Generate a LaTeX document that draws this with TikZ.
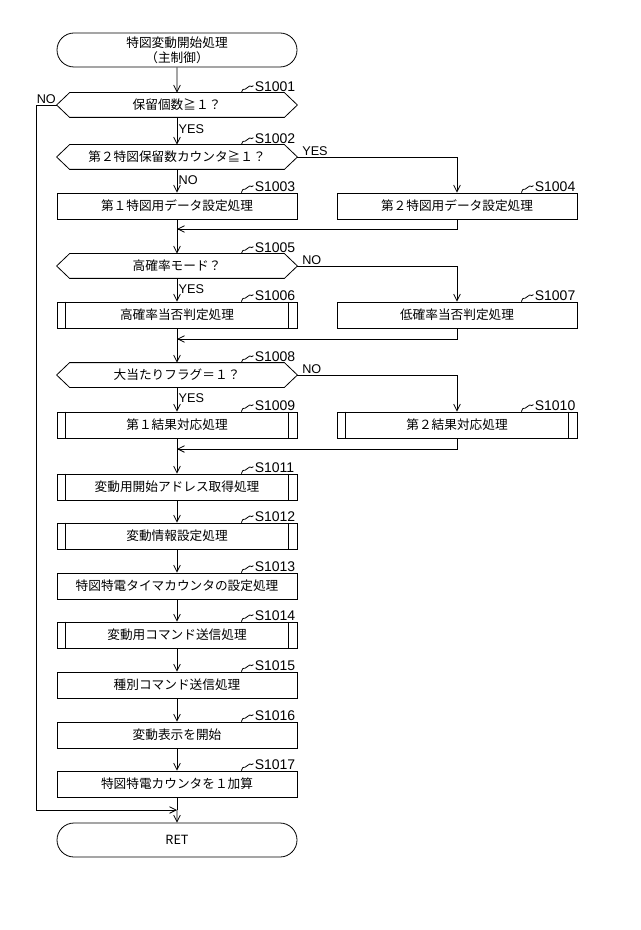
\documentclass[tikz,border=0pt]{standalone}
\usepackage{fontspec}
\setmainfont{Liberation Sans}
\newfontfamily\cjk{Noto Sans CJK JP}
\usetikzlibrary{calc,arrows.meta,shapes.misc}
\begin{document}
\begin{tikzpicture}[x=0.75pt,y=-0.75pt,line width=0.6pt,
  box/.style={draw,minimum width=240*0.75pt,minimum height=26*0.75pt,font=\cjk\fontsize{9.5}{11}\selectfont,inner sep=0pt},
  term/.style={draw,rounded rectangle,minimum width=240*0.75pt,minimum height=34*0.75pt,font=\cjk\fontsize{9.5}{11}\selectfont,inner sep=0pt,align=center},
  dec/.style={minimum width=240*0.75pt,minimum height=24*0.75pt,font=\cjk\fontsize{9.5}{11}\selectfont,inner sep=0pt},
  lab/.style={font=\fontsize{10.5}{12}\selectfont,inner sep=0pt,anchor=south west},
  yn/.style={font=\fontsize{9.5}{11}\selectfont,inner sep=1pt},
  arr/.style={-{Straight Barb[length=5pt,width=5pt]}}]
\useasboundingbox (0,0) rectangle (640,930);
\newcommand{\hexa}[1]{\draw (#1.west) -- ($(#1.north west)+(13,0)$) -- ($(#1.north east)+(-13,0)$) -- (#1.east) -- ($(#1.south east)+(-13,0)$) -- ($(#1.south west)+(13,0)$) -- cycle;}
\newcommand{\subr}[1]{\draw ($(#1.north west)+(9,0)$) -- ($(#1.south west)+(9,0)$) ($(#1.north east)+(-9,0)$) -- ($(#1.south east)+(-9,0)$);}
\newcommand{\stp}[2]{\draw ($(#1.north east)+(-56,0)$) .. controls +(2,-6) and +(-4,4) .. ++(6,-5) .. controls +(4,-4) and +(-3,3) .. ++(6,-2); \node[lab] at ($(#1.north east)+(-43,-1)$) {#2};}
\node[term] (st) at (177,50) {特図変動開始処理\\（主制御）};
\node[dec] (d1) at (177,105) {保留個数≧１？}; \hexa{d1}
\node[dec] (d2) at (177,157) {第２特図保留数カウンタ≧１？}; \hexa{d2}
\node[box] (b3) at (177,206) {第１特図用データ設定処理};
\node[box] (b4) at (457,206) {第２特図用データ設定処理};
\node[dec] (d5) at (177,266) {高確率モード？}; \hexa{d5}
\node[box] (b6) at (177,315) {高確率当否判定処理}; \subr{b6}
\node[box] (b7) at (457,315) {低確率当否判定処理};
\node[dec] (d8) at (177,375) {大当たりフラグ＝１？}; \hexa{d8}
\node[box] (b9) at (177,425) {第１結果対応処理}; \subr{b9}
\node[box] (b10) at (457,425) {第２結果対応処理}; \subr{b10}
\node[box] (b11) at (177,487) {変動用開始アドレス取得処理}; \subr{b11}
\node[box] (b12) at (177,536) {変動情報設定処理}; \subr{b12}
\node[box] (b13) at (177,586) {特図特電タイマカウンタの設定処理};
\node[box] (b14) at (177,635) {変動用コマンド送信処理}; \subr{b14}
\node[box] (b15) at (177,685) {種別コマンド送信処理};
\node[box] (b16) at (177,735) {変動表示を開始};
\node[box] (b17) at (177,784) {特図特電カウンタを１加算};
\node[term] (ret) at (177,840) {RET};
\stp{d1}{S1001}\stp{d2}{S1002}\stp{b3}{S1003}\stp{b4}{S1004}\stp{d5}{S1005}
\stp{b6}{S1006}\stp{b7}{S1007}\stp{d8}{S1008}\stp{b9}{S1009}\stp{b10}{S1010}
\stp{b11}{S1011}\stp{b12}{S1012}\stp{b13}{S1013}\stp{b14}{S1014}\stp{b15}{S1015}
\stp{b16}{S1016}\stp{b17}{S1017}
\coordinate (m1) at (177,229); \coordinate (m2) at (177,339); \coordinate (m3) at (177,449);
\coordinate (j) at (177,810);
\draw[arr] (st) -- (d1);
\draw[arr] (d1) -- node[yn,anchor=west,pos=0.45]{YES} (d2);
\draw[arr] (d2) -- node[yn,anchor=west,pos=0.45]{NO} (b3);
\draw[arr] (d2.east) -- node[yn,anchor=south west,pos=0.02]{YES} (d2.east -| b4) -- (b4);
\draw (b3) -- (m1); \draw[arr] (b4.south) |- (m1);
\draw[arr] (m1) -- (d5);
\draw[arr] (d5) -- node[yn,anchor=west,pos=0.45]{YES} (b6);
\draw[arr] (d5.east) -- node[yn,anchor=south west,pos=0.02]{NO} (d5.east -| b7) -- (b7);
\draw (b6) -- (m2); \draw[arr] (b7.south) |- (m2);
\draw[arr] (m2) -- (d8);
\draw[arr] (d8) -- node[yn,anchor=west,pos=0.45]{YES} (b9);
\draw[arr] (d8.east) -- node[yn,anchor=south west,pos=0.02]{NO} (d8.east -| b10) -- (b10);
\draw (b9) -- (m3); \draw[arr] (b10.south) |- (m3);
\draw[arr] (m3) -- (b11);
\draw[arr] (b11) -- (b12); \draw[arr] (b12) -- (b13); \draw[arr] (b13) -- (b14);
\draw[arr] (b14) -- (b15); \draw[arr] (b15) -- (b16); \draw[arr] (b16) -- (b17);
\draw (b17) -- (j); \draw[arr] (j) -- (ret);
\draw[arr] (d1.west) -- node[yn,anchor=south,pos=0.5]{NO} (36,105) -- (36,810) -- (j);
\end{tikzpicture}
\end{document}
